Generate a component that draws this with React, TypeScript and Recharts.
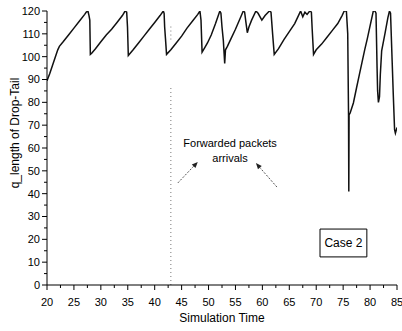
import React from 'react';
import { LineChart, Line, XAxis, YAxis, ReferenceLine, ReferenceArea, ReferenceDot } from 'recharts';

const times = [
  20.0, 20.5, 21.0, 21.5, 22.0, 22.3, 23, 24, 25, 26, 27, 27.3, 27.6, 27.8, 27.95, 28.05, 28.3,
  29, 30, 31, 32, 33, 34, 34.5, 34.8, 34.95, 35.1,
  36, 37, 38, 39, 40, 41, 41.6, 41.75, 41.85, 42.0, 42.2,
  43, 44, 45, 46, 47, 48, 48.4, 48.6, 48.8,
  49.3, 49.8, 50.5, 51.3, 52.1, 52.3, 52.5, 52.75, 53.0, 53.15, 53.5, 54, 55, 56, 56.45, 56.7,
  57.0, 57.2, 57.5, 58.0, 58.8, 59.2, 59.9, 60.5, 61.3, 61.6, 61.9, 62.2,
  63, 64, 65, 66, 66.7, 67.1, 67.5, 67.9, 68.3, 68.8, 69.1, 69.25, 69.5,
  70, 71, 72, 73, 74, 74.8, 75.2, 75.6, 75.85, 76.0, 76.05, 76.1, 76.3, 76.9,
  77.5, 78, 78.5, 79, 79.5, 80, 80.6, 80.9, 81.1, 81.3, 81.4, 81.55, 81.75, 81.9, 82.15,
  82.8, 83.3, 83.6, 83.8, 84.1, 84.3, 84.55, 84.7, 85,
];

const queueLengths = [
  89.5, 92.5, 96, 99.5, 103, 104.5, 106.5, 109.5, 112.5, 115.5, 118.5, 119.5, 120, 118, 116, 101, 101.5,
  103.5, 106.5, 109.5, 112, 115, 118, 120, 119.5, 113, 100.5,
  103, 106, 109, 112, 115, 118, 120, 119, 113, 108, 101,
  103, 106, 109, 112.5, 115.5, 118.5, 120, 116, 102,
  104, 106, 109.5, 114.5, 120, 119, 113, 107, 97, 103, 104.5, 107, 112, 117.5, 120, 119.5,
  114, 110.5, 113, 116, 120, 119, 116, 118, 120, 119.5, 110, 101,
  103.5, 107.5, 111, 114.5, 118, 120, 117.5, 119.5, 118.5, 120, 119.5, 112, 101,
  103, 105.5, 108.5, 111.5, 114.5, 118, 120, 120, 110, 74.5, 41, 74.5, 75.3, 79.7,
  86.5, 92, 97.5, 103, 108, 113.5, 120, 120, 119, 95, 85, 80, 82.5, 92, 102.5,
  110.5, 117, 120, 119, 98, 84, 68, 66.5, 69,
];

const xTicks = [20, 22.5, 25, 27.5, 30, 32.5, 35, 37.5, 40, 42.5, 45, 47.5, 50, 52.5, 55, 57.5, 60, 62.5, 65, 67.5, 70, 72.5, 75, 77.5, 80, 82.5, 85];
const xMajorTicks = [20, 25, 30, 35, 40, 45, 50, 55, 60, 65, 70, 75, 80, 85];
const yTicks = [0, 5, 10, 15, 20, 25, 30, 35, 40, 45, 50, 55, 60, 65, 70, 75, 80, 85, 90, 95, 100, 105, 110, 115, 120];
const yMajorTicks = [0, 10, 20, 30, 40, 50, 60, 70, 80, 90, 100, 110, 120];

const annotationText = ['Forwarded packets', 'arrivals'];
const annotationPos = [
  { x: 54, y: 62.2 },
  { x: 54, y: 55.6 },
];
const arrowSegments = [
  [{ x: 44.3, y: 44.7 }, { x: 48.0, y: 53.9 }],
  [{ x: 62.7, y: 42.9 }, { x: 58.8, y: 53.4 }],
];
const arrivalTime = 43;
const arrivalSpans = [
  [0, 87.6],
  [107.5, 113.5],
];
const caseLabel = 'Case 2';
const caseBox = { x1: 70.7, x2: 79.4, y1: 12.3, y2: 24.5 };

const data = times.map((t, i) => ({ t, v: queueLengths[i] }));

const FONT = '"Liberation Sans", Arial, Helvetica, sans-serif';

const XTick = (props: any) => {
  const { x, y, payload } = props;
  const major = xMajorTicks.includes(payload.value);
  return (
    <g>
      <line x1={x} y1={y} x2={x} y2={y + (major ? 5 : 3)} stroke="#000" strokeWidth={1} />
      {major && (
        <text x={x} y={y + 17} dy="0.35em" textAnchor="middle" fontSize={11} fontFamily={FONT} fill="#000">
          {payload.value}
        </text>
      )}
    </g>
  );
};

const YTick = (props: any) => {
  const { x, y, payload } = props;
  const major = yMajorTicks.includes(payload.value);
  return (
    <g>
      <line x1={x - (major ? 5 : 3)} y1={y} x2={x} y2={y} stroke="#000" strokeWidth={1} />
      {major && (
        <text x={x - 7} y={y} dy="0.35em" textAnchor="end" fontSize={11} fontFamily={FONT} fill="#000">
          {payload.value}
        </text>
      )}
    </g>
  );
};

const ArrowShape = (props: any) => {
  const { x1, y1, x2, y2 } = props;
  const ang = Math.atan2(y2 - y1, x2 - x1);
  const L = 6;
  const W = 2.5;
  const bx = x2 - L * Math.cos(ang);
  const by = y2 - L * Math.sin(ang);
  const px = -Math.sin(ang) * W;
  const py = Math.cos(ang) * W;
  return (
    <g>
      <line x1={x1} y1={y1} x2={bx} y2={by} stroke="#555" strokeWidth={1} strokeDasharray="2 1.5" />
      <polygon points={`${x2},${y2} ${bx + px},${by + py} ${bx - px},${by - py}`} fill="#222" />
    </g>
  );
};

const textShape = (label: string) => (props: any) => (
  <text x={props.cx} y={props.cy} dy="0.35em" textAnchor="middle" fontSize={11} fontFamily={FONT} fill="#000">
    {label}
  </text>
);

const XLabel = (props: any) => {
  const vb = props.viewBox;
  return (
    <text x={vb.x + vb.width / 2} y={vb.y + 33} dy="0.35em" textAnchor="middle" fontSize={12} fontFamily={FONT} fill="#000">
      Simulation Time
    </text>
  );
};

const YLabel = (props: any) => {
  const vb = props.viewBox;
  const cx = 15;
  const cy = vb.y + vb.height / 2 - 15;
  return (
    <text x={cx} y={cy} dy="0.35em" textAnchor="middle" fontSize={12} fontFamily={FONT} fill="#000" transform={`rotate(-90 ${cx} ${cy})`}>
      q_length of Drop-Tail
    </text>
  );
};

export default function App() {
  return (
    <div style={{ position: 'absolute', left: 0, top: 0, width: 402, height: 331, background: '#fff' }}>
      <LineChart width={402} height={331} data={data} margin={{ top: 11, right: 5, bottom: 0, left: 0 }}>
        <XAxis
          dataKey="t"
          type="number"
          domain={[20, 85]}
          ticks={xTicks}
          interval={0}
          tickLine={false}
          tickSize={0}
          tickMargin={0}
          height={46}
          axisLine={{ stroke: '#000', strokeWidth: 1 }}
          tick={<XTick />}
          label={XLabel}
          allowDataOverflow
        />
        <YAxis
          type="number"
          domain={[0, 120]}
          ticks={yTicks}
          interval={0}
          tickLine={false}
          tickSize={0}
          tickMargin={0}
          width={47}
          axisLine={{ stroke: '#000', strokeWidth: 1 }}
          tick={<YTick />}
          label={YLabel}
          allowDataOverflow
        />
        {arrivalSpans.map((s, i) => (
          <ReferenceLine
            key={'arr' + i}
            segment={[{ x: arrivalTime, y: s[0] }, { x: arrivalTime, y: s[1] }]}
            stroke="#777"
            strokeWidth={1}
            strokeDasharray="1 3"
          />
        ))}
        <Line
          type="linear"
          dataKey="v"
          stroke="#111"
          strokeWidth={1.5}
          dot={false}
          isAnimationActive={false}
        />
        {arrowSegments.map((seg, i) => (
          <ReferenceLine key={'arrow' + i} segment={seg} shape={ArrowShape} />
        ))}
        {annotationText.map((t, i) => (
          <ReferenceDot key={'txt' + i} x={annotationPos[i].x} y={annotationPos[i].y} r={0} shape={textShape(t)} />
        ))}
        <ReferenceArea
          x1={caseBox.x1}
          x2={caseBox.x2}
          y1={caseBox.y1}
          y2={caseBox.y2}
          stroke="#000"
          strokeWidth={1}
          fill="#fff"
          fillOpacity={1}
          label={{ value: caseLabel, position: 'center', fontSize: 12, fontFamily: FONT, fill: '#000' }}
        />
      </LineChart>
    </div>
  );
}
